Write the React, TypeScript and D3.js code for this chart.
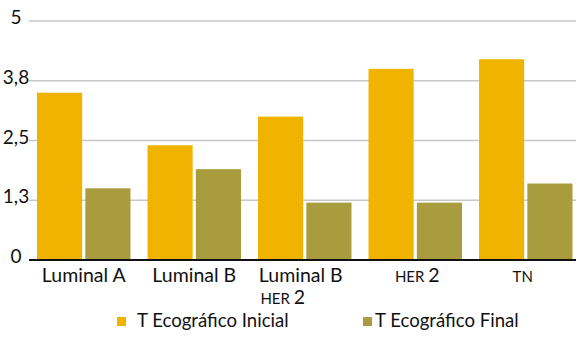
import React from "react";
import * as d3 from "d3";

const categories = ["Luminal A", "Luminal B", "Luminal B HER 2", "HER 2", "TN"];
const seriesNames = ["T Ecográfico Inicial", "T Ecográfico Final"];
const inicialValues = [3.5, 2.4, 3.0, 4.0, 4.2];
const finalValues = [1.5, 1.9, 1.2, 1.2, 1.6];
const tickValues = [0, 1.25, 2.5, 3.75, 5];
const tickLabels = ["0", "1,3", "2,5", "3,8", "5"];
const colors = ["#F0B400", "#A89C3E"];

const W = 576;
const H = 339;
const FONT = "'Lato', 'Liberation Sans', sans-serif";

export default function App() {
  const x = d3
    .scaleBand<string>()
    .domain(categories)
    .range([28.5, 581])
    .paddingInner(0.154)
    .paddingOuter(0.077);
  const xs = d3
    .scaleBand<string>()
    .domain(seriesNames)
    .range([0, x.bandwidth()])
    .paddingInner(0.066);
  const y = d3.scaleLinear().domain([0, 5]).range([260, 21]);
  const series = [inicialValues, finalValues];

  // x-axis labels: "HER" and "TN" are set in smaller caps, digits at full size
  const small = 15;
  const big = 19.5;
  const labelFor = (c: string, i: number) => {
    const cx = (x(c) ?? 0) + x.bandwidth() / 2;
    if (c === "Luminal B HER 2") {
      return (
        <g key={i}>
          <text x={cx - 4} y={282} textAnchor="middle" fontSize={big}>
            Luminal B
          </text>
          <text x={cx - 22} y={304} textAnchor="middle">
            <tspan fontSize={small}>HER </tspan>
            <tspan fontSize={big}>2</tspan>
          </text>
        </g>
      );
    }
    if (c === "HER 2") {
      return (
        <text key={i} x={cx + 2} y={282} textAnchor="middle">
          <tspan fontSize={small}>HER </tspan>
          <tspan fontSize={big}>2</tspan>
        </text>
      );
    }
    if (c === "TN") {
      return (
        <text key={i} x={cx - 3} y={282} textAnchor="middle" fontSize={small}>
          TN
        </text>
      );
    }
    return (
      <text key={i} x={cx} y={282} textAnchor="middle" fontSize={big}>
        {c}
      </text>
    );
  };

  return (
    <svg
      width={W}
      height={H}
      style={{ position: "absolute", left: 0, top: 0, background: "#fff" }}
      fontFamily={FONT}
      fill="#111"
    >
      {/* gridlines */}
      {tickValues.slice(1).map((t, i) => (
        <line
          key={i}
          x1={29}
          x2={W}
          y1={y(t)}
          y2={y(t)}
          stroke="#C8C8C8"
          strokeWidth={1.6}
        />
      ))}
      {/* y tick labels */}
      {tickValues.map((t, i) => (
        <text key={i} x={16} y={y(t) + 3} textAnchor="middle" fontSize={19}>
          {tickLabels[i]}
        </text>
      ))}
      {/* bars */}
      {categories.map((c, ci) =>
        seriesNames.map((s, si) => (
          <rect
            key={`${ci}-${si}`}
            x={(x(c) ?? 0) + (xs(s) ?? 0)}
            y={y(series[si][ci])}
            width={xs.bandwidth()}
            height={y(0) - y(series[si][ci])}
            fill={colors[si]}
          />
        ))
      )}
      {/* baseline */}
      <line x1={29} x2={W} y1={y(0)} y2={y(0)} stroke="#111" strokeWidth={2} />
      {categories.map(labelFor)}
      {/* legend */}
      <rect x={117} y={317} width={9} height={9} fill={colors[0]} />
      <text x={137} y={327} fontSize={18.6}>
        {seriesNames[0]}
      </text>
      <rect x={363} y={317} width={9} height={9} fill={colors[1]} />
      <text x={375} y={327} fontSize={18.6}>
        {seriesNames[1]}
      </text>
    </svg>
  );
}
